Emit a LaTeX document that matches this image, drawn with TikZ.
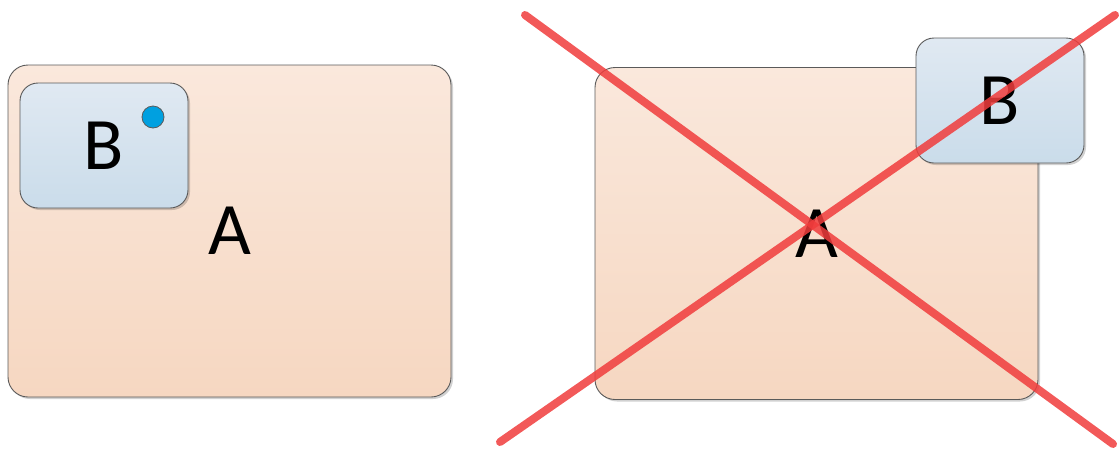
\documentclass[tikz,border=0pt]{standalone}
\usepackage{fontspec}
\setmainfont{Carlito}
\usetikzlibrary{shadows}
\definecolor{aTop}{HTML}{FAE8DC}
\definecolor{aBot}{HTML}{F6D7C1}
\definecolor{bTop}{HTML}{E0E9F2}
\definecolor{bBot}{HTML}{CADCEA}
\definecolor{edge}{HTML}{5A5A5A}
\definecolor{dot}{HTML}{00A0E0}
\definecolor{xred}{HTML}{F03C3C}
\tikzset{
  boxA/.style={draw=edge, line width=0.9pt, rounded corners=20pt, top color=aTop, bottom color=aBot,
    minimum width=443pt, minimum height=332pt, inner sep=0pt,
    font=\fontsize{74}{74}\selectfont,
    drop shadow={shadow xshift=2pt, shadow yshift=-2pt, opacity=0.18, fill=black}},
  boxB/.style={draw=edge, line width=0.9pt, rounded corners=18pt, top color=bTop, bottom color=bBot,
    minimum width=168pt, minimum height=125pt, inner sep=0pt,
    font=\fontsize{74}{74}\selectfont,
    drop shadow={shadow xshift=2pt, shadow yshift=-2pt, opacity=0.18, fill=black}},
  bluedot/.style={circle, draw=edge, line width=0.8pt, fill=dot, minimum size=22pt, inner sep=0pt},
  crossline/.style={draw=xred, draw opacity=0.85, line width=8pt, line cap=round}
}
\begin{document}
\begin{tikzpicture}[x=1pt,y=-1pt]
\useasboundingbox (0,0) rectangle (1120,448);
% left: A containing B
\node[boxA] (A1) at (229.5,231) {A};
\node[boxB] (B1) at (104,145.5) {B};
\node[bluedot] (P1) at (153,117) {};
% right: B overlapping A, crossed out
\node[boxA] (A2) at (816.5,233.5) {A};
\node[boxB] (B2) at (1000,100.5) {B};
\coordinate (c1s) at (525,15);
\coordinate (c1e) at (1113,444);
\coordinate (c2s) at (500,442);
\coordinate (c2e) at (1115,15);
\draw[crossline] (c1s) -- (c1e);
\draw[crossline] (c2s) -- (c2e);
\end{tikzpicture}
\end{document}
